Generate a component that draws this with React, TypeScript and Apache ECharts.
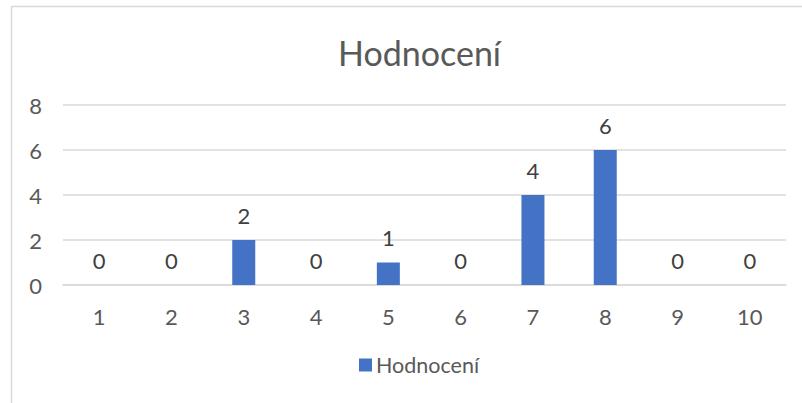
import React, { useEffect, useRef } from "react";
import * as echarts from "echarts";

const categories = ["1", "2", "3", "4", "5", "6", "7", "8", "9", "10"];
const values = [0, 0, 2, 0, 1, 0, 4, 6, 0, 0];
const seriesName = "Hodnocení";
const titleText = "Hodnocení";

const FONT = "Lato, 'Noto Sans', sans-serif";
const TEXT = "#595959";
const GRID = "#d9d9d9";

export default function App() {
  const ref = useRef<HTMLDivElement>(null);
  useEffect(() => {
    document.body.style.margin = "0";
    const chart = echarts.init(ref.current!, null, { renderer: "svg" });
    chart.setOption({
      animation: false,
      backgroundColor: "#ffffff",
      title: {
        text: titleText,
        left: 333,
        top: 30,
        textStyle: { fontFamily: FONT, fontSize: 34, fontWeight: "normal", color: TEXT },
      },
      legend: {
        bottom: 22,
        left: 354,
        itemWidth: 13,
        itemHeight: 13,
        icon: "rect",
        itemGap: 6,
        textStyle: { fontFamily: FONT, fontSize: 21.5, color: TEXT, padding: [0, 0, 0, -1] },
        data: [seriesName],
      },
      grid: { left: 63, right: 16, top: 105, bottom: 118, containLabel: false },
      xAxis: {
        type: "category",
        data: categories,
        axisTick: { show: false },
        axisLine: { lineStyle: { color: GRID, width: 1.5 } },
        axisLabel: { fontFamily: FONT, fontSize: 22, color: TEXT, margin: 20 },
      },
      yAxis: {
        type: "value",
        min: 0,
        max: 8,
        interval: 2,
        axisLine: { show: false },
        axisTick: { show: false },
        splitLine: { lineStyle: { color: GRID, width: 1.5 } },
        axisLabel: { fontFamily: FONT, fontSize: 22, color: TEXT, margin: 21 },
      },
      series: [
        {
          name: seriesName,
          type: "bar",
          data: values,
          barWidth: 23,
          itemStyle: { color: "#4472C4" },
          label: {
            show: true,
            position: "top",
            distance: 14,
            fontFamily: FONT,
            fontSize: 22,
            color: "#404040",
          },
        },
      ],
      graphic: [
        {
          type: "line",
          shape: { x1: 11.5, y1: 6.5, x2: 802, y2: 6.5 },
          style: { stroke: "#d9d9d9", lineWidth: 1.5 },
        },
        {
          type: "line",
          shape: { x1: 11.5, y1: 6.5, x2: 11.5, y2: 403 },
          style: { stroke: "#d9d9d9", lineWidth: 1.5 },
        },
      ],
    });
    return () => chart.dispose();
  }, []);
  return <div ref={ref} style={{ width: 802, height: 403 }} />;
}
